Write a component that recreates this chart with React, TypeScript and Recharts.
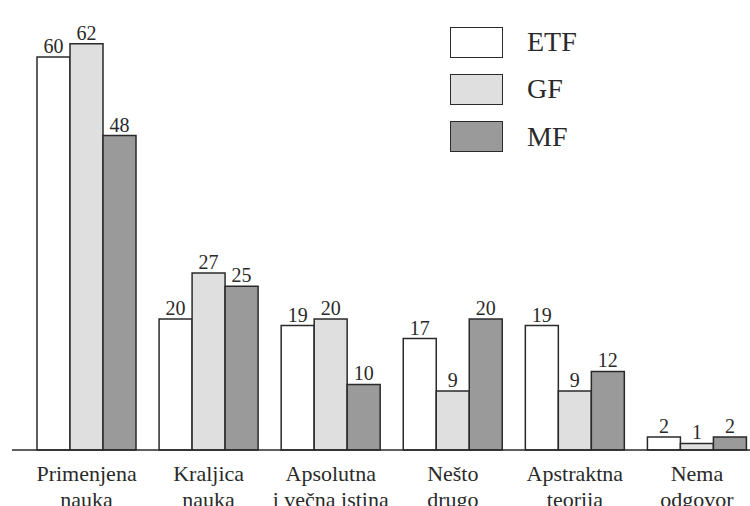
import React from "react";
import { BarChart, Bar, XAxis, YAxis, Legend, LabelList } from "recharts";

const categories = [
  ["Primenjena", "nauka"],
  ["Kraljica", "nauka"],
  ["Apsolutna", "i večna istina"],
  ["Nešto", "drugo"],
  ["Apstraktna", "teorija"],
  ["Nema", "odgovor"],
];
const etf = [60, 20, 19, 17, 19, 2];
const gf = [62, 27, 20, 9, 9, 1];
const mf = [48, 25, 10, 20, 12, 2];

const series = [
  { key: "ETF", fill: "#ffffff" },
  { key: "GF", fill: "#dfdfdf" },
  { key: "MF", fill: "#9a9a9a" },
];

const data = categories.map((c, i) => ({
  name: c.join("\n"),
  ETF: etf[i],
  GF: gf[i],
  MF: mf[i],
}));

const FONT = "'Liberation Serif', 'DejaVu Serif', serif";
const INK = "#2a2a2a";

const CategoryTick = (props: any) => {
  const { x, y, payload } = props;
  const lines = String(payload.value).split("\n");
  return (
    <g transform={`translate(${x},${y})`}>
      {lines.map((l, i) => (
        <text
          key={i}
          x={0}
          y={23 + i * 26}
          textAnchor="middle"
          fontSize={22}
          fontFamily={FONT}
          fill={INK}
        >
          {l}
        </text>
      ))}
    </g>
  );
};

const LegendBox = () => (
  <div style={{ fontFamily: FONT, color: INK }}>
    {series.map((s) => (
      <div
        key={s.key}
        style={{ display: "flex", alignItems: "center", height: 32, marginBottom: 15.3 }}
      >
        <div
          style={{
            width: 51,
            height: 29,
            background: s.fill,
            border: `1.5px solid ${INK}`,
          }}
        />
        <span style={{ marginLeft: 24, fontSize: 28, lineHeight: "32px" }}>{s.key}</span>
      </div>
    ))}
  </div>
);

export default function App() {
  return (
    <div
      style={{
        position: "absolute",
        left: 0,
        top: 0,
        width: 750,
        height: 506,
        overflow: "hidden",
        background: "#fff",
      }}
    >
      <BarChart
        width={758}
        height={506}
        data={data}
        margin={{ top: 13, left: 12, right: 0, bottom: 0 }}
        barCategoryGap={11.5}
        barGap={0}
      >
        <XAxis
          dataKey="name"
          height={56}
          interval={0}
          tickLine={false}
          axisLine={{ stroke: INK, strokeWidth: 1.5 }}
          padding={{ left: 13.5, right: 0 }}
          tick={<CategoryTick />}
        />
        <YAxis
          width={0}
          domain={[0, 66.7]}
          tick={false}
          tickLine={false}
          axisLine={{ stroke: INK, strokeWidth: 1.5 }}
        />
        <Legend
          layout="horizontal"
          verticalAlign="middle"
          align="center"
          wrapperStyle={{ top: 26, left: 450, width: 200 }}
          content={<LegendBox />}
        />
        {series.map((s) => (
          <Bar
            key={s.key}
            dataKey={s.key}
            fill={s.fill}
            stroke={INK}
            strokeWidth={1.5}
            isAnimationActive={false}
          >
            <LabelList
              dataKey={s.key}
              position="top"
              offset={4}
              fontSize={20}
              fontFamily={FONT}
              fill={INK}
            />
          </Bar>
        ))}
      </BarChart>
    </div>
  );
}
